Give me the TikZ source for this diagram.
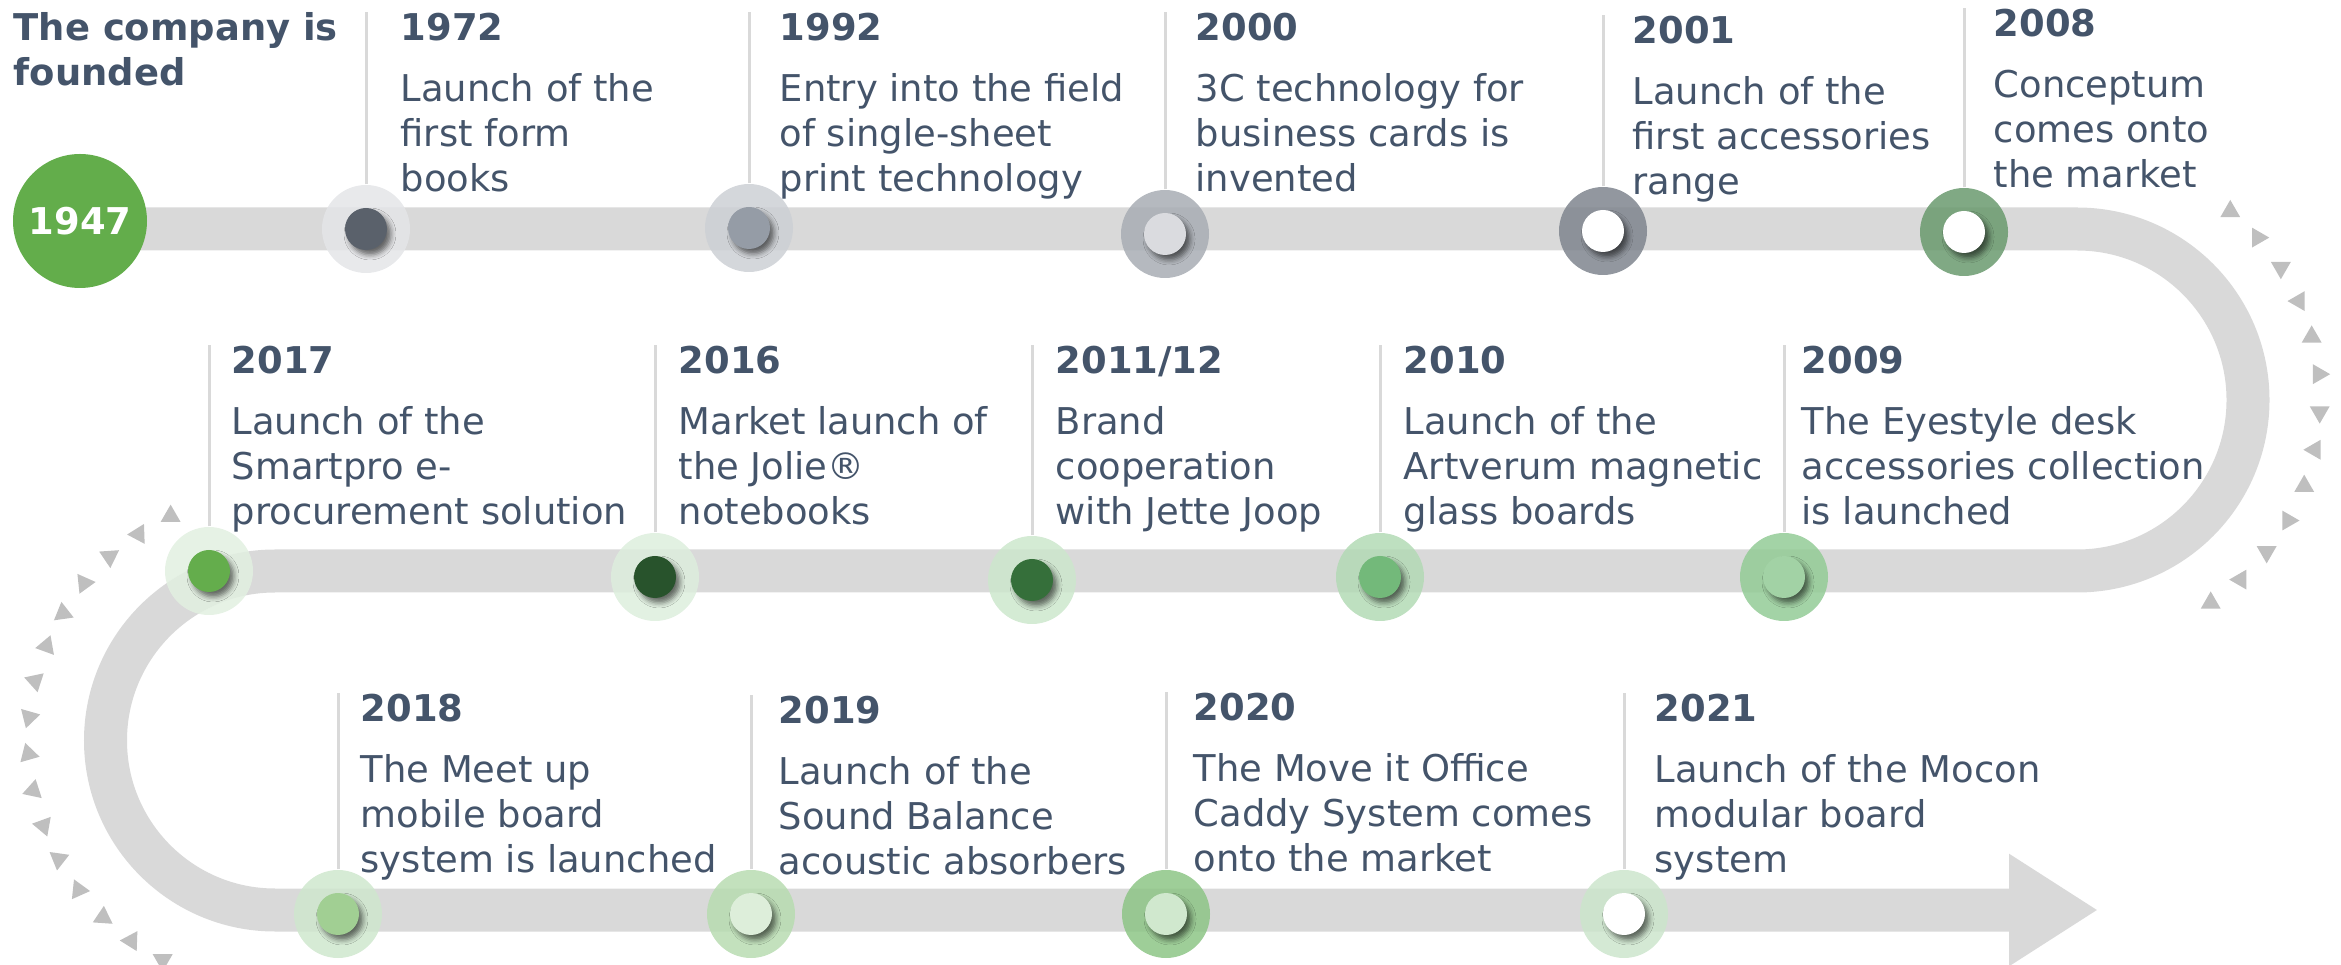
\documentclass[tikz,border=0pt]{standalone}
\usepackage{fontspec}
\setmainfont{DejaVu Sans}
\usetikzlibrary{arrows.meta,shapes.geometric,shadows.blur}

\definecolor{txt}{HTML}{44546A}
\definecolor{trackgray}{HTML}{D9D9D9}
\definecolor{trigray}{HTML}{BFBFBF}
\definecolor{startgreen}{HTML}{63AD4B}
\definecolor{h1972}{HTML}{E4E5E8}\definecolor{d1972}{HTML}{5A616B}
\definecolor{h1992}{HTML}{CDD0D5}\definecolor{d1992}{HTML}{959CA6}
\definecolor{h2000}{HTML}{A8ADB4}\definecolor{d2000}{HTML}{DADBDF}
\definecolor{h2001}{HTML}{7F858E}\definecolor{d2001}{HTML}{FFFFFF}
\definecolor{h2008}{HTML}{6A9A6E}\definecolor{d2008}{HTML}{FFFFFF}
\definecolor{h2009}{HTML}{93CB96}\definecolor{d2009}{HTML}{A2D2A5}
\definecolor{h2010}{HTML}{B3DAB5}\definecolor{d2010}{HTML}{73B97A}
\definecolor{h2011}{HTML}{CDE7CD}\definecolor{d2011}{HTML}{356F3A}
\definecolor{h2016}{HTML}{DDEEDD}\definecolor{d2016}{HTML}{28532C}
\definecolor{h2017}{HTML}{E2F0E1}\definecolor{d2017}{HTML}{64AD4C}
\definecolor{h2018}{HTML}{CFE7CE}\definecolor{d2018}{HTML}{A1CF93}
\definecolor{h2019}{HTML}{B8DCB1}\definecolor{d2019}{HTML}{DDEEDA}
\definecolor{h2020}{HTML}{8DC586}\definecolor{d2020}{HTML}{D0E8CE}
\definecolor{h2021}{HTML}{CCE5CC}\definecolor{d2021}{HTML}{FFFFFF}

\tikzset{
	track/.style={draw=trackgray, line width=0.43cm},
	stem/.style={draw=trackgray, line width=0.03cm},
	tri/.style={regular polygon, regular polygon sides=3, fill=trigray, inner sep=0, minimum size=0.23cm},
	halo/.style={circle, minimum size=0.88cm, inner sep=0, fill opacity=0.85},
	dot/.style={circle, minimum size=0.42cm, inner sep=0, blur shadow={shadow xshift=0.04cm, shadow yshift=-0.05cm, shadow blur radius=0.05cm, shadow opacity=55}},
	event/.style={anchor=north west, inner sep=0, align=left, text=txt, font=\fontsize{10.5}{12.8}\selectfont},
}

\begin{document}
\begin{tikzpicture}
	\useasboundingbox (0,0) rectangle (23.41,9.64);
	\draw[track,-{Triangle[length=0.89cm,width=1.06cm]}] (0.80,7.35) -- (20.77,7.35) arc (90:-90:1.71) -- (2.75,3.93) arc (90:270:1.695) -- (20.98,0.54);

	\begin{scope}[shift={(20.77,5.64)}]
		\foreach \i in {0,...,12}
			\node[tri, rotate=30*\i] (r\i) at ({50.9-8.96*\i}:2.43) {};
	\end{scope}
	\begin{scope}[shift={(2.75,2.24)}]
		\foreach \i in {0,...,15}
			\node[tri, rotate=-28*\i] (l\i) at ({115+8.53*\i}:2.47) {};
	\end{scope}

	\node[event, font=\bfseries\fontsize{10.5}{12.8}\selectfont] (e1947) at (0.13,9.52) {The company is\\founded};

	\node[event] (e1972) at (4.00,9.52) {\textbf{1972}\\[4.6pt]Launch of the\\first form\\books};
	\node[event] (e1992) at (7.79,9.52) {\textbf{1992}\\[4.6pt]Entry into the field\\of single-sheet\\print technology};
	\node[event] (e2000) at (11.95,9.52) {\textbf{2000}\\[4.6pt]3C technology for\\business cards is\\invented};
	\node[event] (e2001) at (16.32,9.49) {\textbf{2001}\\[4.6pt]Launch of the\\first accessories\\range};
	\node[event] (e2008) at (19.93,9.56) {\textbf{2008}\\[4.6pt]Conceptum\\comes onto\\the market};

	\node[event] (e2017) at (2.31,6.19) {\textbf{2017}\\[4.6pt]Launch of the\\Smartpro e-\\procurement solution};
	\node[event] (e2016) at (6.78,6.19) {\textbf{2016}\\[4.6pt]Market launch of\\the Jolie®\\notebooks};
	\node[event] (e2011) at (10.55,6.19) {\textbf{2011/12}\\[4.6pt]Brand\\cooperation\\with Jette Joop};
	\node[event] (e2010) at (14.03,6.19) {\textbf{2010}\\[4.6pt]Launch of the\\Artverum magnetic\\glass boards};
	\node[event] (e2009) at (18.01,6.19) {\textbf{2009}\\[4.6pt]The Eyestyle desk\\accessories collection\\is launched};

	\node[event] (e2018) at (3.60,2.71) {\textbf{2018}\\[4.6pt]The Meet up\\mobile board\\system is launched};
	\node[event] (e2019) at (7.78,2.69) {\textbf{2019}\\[4.6pt]Launch of the\\Sound Balance\\acoustic absorbers};
	\node[event] (e2020) at (11.93,2.72) {\textbf{2020}\\[4.6pt]The Move it Office\\Caddy System comes\\onto the market};
	\node[event] (e2021) at (16.54,2.71) {\textbf{2021}\\[4.6pt]Launch of the Mocon\\modular board\\system};

	\node[halo, fill=h1972] (h1972) at (3.66,7.35) {};
	\node[halo, fill=h1992] (h1992) at (7.49,7.36) {};
	\node[halo, fill=h2000] (h2000) at (11.65,7.30) {};
	\node[halo, fill=h2001] (h2001) at (16.03,7.33) {};
	\node[halo, fill=h2008] (h2008) at (19.64,7.32) {};
	\node[halo, fill=h2017] (h2017) at (2.09,3.93) {};
	\node[halo, fill=h2016] (h2016) at (6.55,3.87) {};
	\node[halo, fill=h2011] (h2011) at (10.32,3.84) {};
	\node[halo, fill=h2010] (h2010) at (13.80,3.87) {};
	\node[halo, fill=h2009] (h2009) at (17.84,3.87) {};
	\node[halo, fill=h2018] (h2018) at (3.38,0.50) {};
	\node[halo, fill=h2019] (h2019) at (7.51,0.50) {};
	\node[halo, fill=h2020] (h2020) at (11.66,0.50) {};
	\node[halo, fill=h2021] (h2021) at (16.24,0.50) {};

	\foreach \yr in {1972,1992,2000,2001,2008,2017,2016,2011,2010,2009,2018,2019,2020,2021}{
		\draw[stem] (h\yr.north) -- (h\yr.north |- e\yr.north);
		\node[dot, fill=d\yr] (d\yr) at (h\yr) {};
	}

	\node[circle, fill=startgreen, minimum size=1.34cm, inner sep=0, text=white, font=\bfseries\fontsize{10.5}{12.8}\selectfont] (start) at (0.80,7.43) {1947};
\end{tikzpicture}
\end{document}
